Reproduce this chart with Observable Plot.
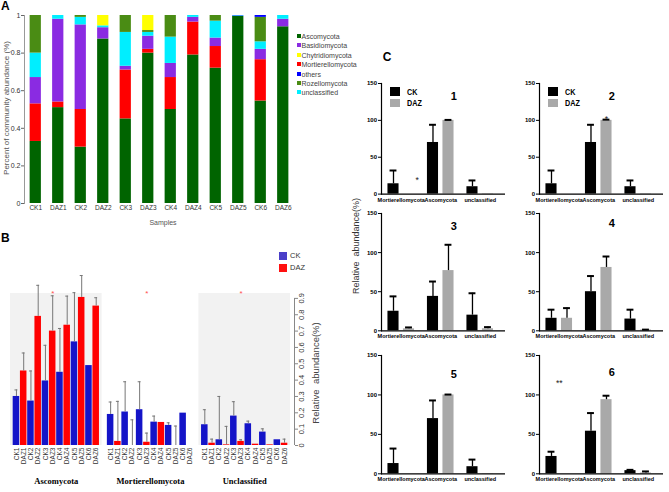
<!DOCTYPE html>
<html><head><meta charset="utf-8">
<script src="https://cdn.jsdelivr.net/npm/d3@7"></script>
<script src="https://cdn.jsdelivr.net/npm/@observablehq/plot@0.6"></script>
<style>
body{margin:0;background:#fff;}
#root{position:relative;width:669px;height:492px;overflow:hidden;background:#fff;font-family:"Liberation Sans",Arial,sans-serif;}
#root svg{position:absolute;}
.lbl{position:absolute;white-space:nowrap;line-height:1;}
.rot{transform:translate(-50%,-50%) rotate(-90deg);}
.ctr{transform:translate(-50%,-50%);}
.sw{position:absolute;}
</style></head><body><div id="root"></div>
<script>
// ---------- Panel A data ----------
const samples = ["CK1","DAZ1","CK2","DAZ2","CK3","DAZ3","CK4","DAZ4","CK5","DAZ5","CK6","DAZ6"];
const taxaLegend = ["Ascomycota","Basidiomycota","Chytridiomycota","Mortierellomycota","others","Rozellomycota","unclassified"];
const taxaColors = ["#006400","#8a2be2","#ffff00","#ff0000","#0000ff","#4a8c14","#00eeff"];
const stackOrder = ["Ascomycota","Mortierellomycota","Basidiomycota","unclassified","Rozellomycota","Chytridiomycota","others"];
const aAscomycota        = [0.33,0.51,0.30,0.875,0.45,0.80,0.50,0.79,0.72,0.995,0.545,0.94];
const aMortierellomycota = [0.20,0.03,0.20,0,0.26,0.02,0.17,0.175,0.115,0,0.22,0];
const aBasidiomycota     = [0.14,0.44,0.45,0.06,0.02,0.07,0.075,0.025,0.045,0,0.055,0.04];
const aUnclassified      = [0.13,0.02,0.04,0.01,0.18,0.02,0.14,0.01,0.09,0.003,0.04,0.02];
const aRozellomycota     = [0.20,0,0.01,0,0.09,0.01,0.115,0,0.03,0,0.13,0];
const aChytridiomycota   = [0,0,0,0.055,0,0.08,0,0,0,0,0,0];
const aOthers            = [0,0,0,0,0,0,0,0,0,0.002,0.01,0];
const aTicks = [0,0.2,0.4,0.6,0.8,1];

// ---------- Panel B data ----------
const bTaxa = ["Ascomycota","Mortierellomycota","Unclassified"];
const bAsco     = [0.30,0.456,0.272,0.79,0.395,0.70,0.448,0.736,0.634,0.906,0.489,0.853];
const bAscoErr  = [0.34,0.566,0.456,0.98,0.613,0.916,0.716,0.914,0.935,1.04,null,0.904];
const bMort     = [0.19,0.025,0.205,0,0.219,0.02,0.143,0.141,0.123,0,0.198,0];
const bMortErr  = [0.266,0.27,0.39,0.157,0.39,0.076,0.18,null,0.139,0.119,null,null];
const bUncl     = [0.127,0.014,0.035,0.004,0.18,0.025,0.133,0.008,0.082,0.004,0.035,0.014];
const bUnclErr  = [0.219,0.039,0.30,0.117,0.268,0.035,0.149,null,0.102,null,null,0.039];
const bTicks = [0,0.1,0.2,0.3,0.4,0.5,0.6,0.7,0.8,0.9];
const bGroups = ["CK","DAZ"];
const bColors = ["#1414c8","#ff0000"];

// ---------- Panel C data ----------
const cCats = ["Mortierellomycota","Ascomycota","unclassified"];
const cNames = ["1","2","3","4","5","6"];
const cCK     = [[14,70,10],[14,70,10],[25,44,20],[16,50,15],[13,70,9],[22,54,4]];
const cCKerr  = [[32,94,18.5],[32,94,18.5],[44,63,48],[27,70,27],[32,93,18],[28,77,5]];
const cDAZ    = [[0,100,0.5],[0,100,0.5],[2.5,77,2.6],[16,81,1],[0,100,0.3],[0,94,1]];
const cDAZerr = [[null,100.6,null],[null,101,null],[4.3,110,4.7],[29,95,1.5],[null,100.5,null],[null,99,3]];
const cTicks = [0,50,100,150];
const cStarPanel = [0,1,5];
const cStarCat = ["Mortierellomycota","Ascomycota","Mortierellomycota"];
const cStarValue = [19,102,115];
const cStarText = ["*","*","**"];
const cStarShift = [16,7.75,0];

// ---------- helpers ----------
const root = document.getElementById("root");
const baseStyle = {background:"transparent", overflow:"visible", fontFamily:"'Liberation Sans',Arial,sans-serif", color:"#333"};
function place(svg, left, top){ svg.style.left = left+"px"; svg.style.top = top+"px"; root.appendChild(svg); }
function label(text, x, y, css, cls){
  const d = document.createElement("div");
  d.className = "lbl " + (cls||"");
  d.textContent = text;
  d.style.left = x+"px"; d.style.top = y+"px";
  Object.assign(d.style, css||{});
  root.appendChild(d);
  return d;
}
function swatch(x,y,w,h,color){
  const d = document.createElement("div");
  d.className = "sw";
  Object.assign(d.style,{left:x+"px",top:y+"px",width:w+"px",height:h+"px",background:color});
  root.appendChild(d);
}

// ---------- Panel A ----------
const aSeries = {Ascomycota:aAscomycota, Mortierellomycota:aMortierellomycota, Basidiomycota:aBasidiomycota,
  unclassified:aUnclassified, Rozellomycota:aRozellomycota, Chytridiomycota:aChytridiomycota, others:aOthers};
const aData = [];
stackOrder.forEach(t => samples.forEach((s,j) => { if (aSeries[t][j] > 0) aData.push({taxon:t, sample:s, value:aSeries[t][j]}); }));
const plotA = Plot.plot({
  width:300, height:230, marginLeft:24, marginRight:6, marginTop:15, marginBottom:27,
  style: baseStyle,
  x:{domain:samples, paddingInner:0.5, paddingOuter:0.25, round:false, label:null, axis:null},
  y:{domain:[0,1], label:null, axis:null},
  color:{domain:taxaLegend, range:taxaColors},
  marks:[
    Plot.barY(aData, {x:"sample", y:"value", fill:"taxon"}),
    Plot.frame({anchor:"left", stroke:"#999"}),
    Plot.axisY({ticks:aTicks, tickFormat:d => (d===0||d===1) ? String(d) : d.toFixed(1), tickSize:3, tickPadding:1, fontSize:7, stroke:"#666"}),
    Plot.axisX({tickSize:0, tickPadding:2, fontSize:6.5})
  ]
});
place(plotA, 0, 0);
label("A", 1, 0, {fontSize:"12px", fontWeight:"bold", color:"#000"});
label("Percent of community abundance (%)", 7, 108, {fontSize:"8px", color:"#555"}, "rot");
label("Samples", 163, 222, {fontSize:"7px", color:"#555"}, "ctr");
const aLegY = [36,45,54.5,64,73.5,83,92];
taxaLegend.forEach((t,i) => {
  swatch(296.5, aLegY[i]-2, 4, 4, taxaColors[i]);
  label(t, 301.5, aLegY[i], {fontSize:"7px", color:"#444", transform:"translateY(-50%)"});
});

// ---------- Panel B ----------
const bVals = [bAsco,bMort,bUncl], bErrs = [bAscoErr,bMortErr,bUnclErr];
const bData = [];
bTaxa.forEach((t,k) => samples.forEach((s,j) => bData.push({taxon:t, sample:s, group:s.startsWith("CK")?"CK":"DAZ", value:bVals[k][j], err:bErrs[k][j]})));
const bErrData = bData.filter(d => d.err != null);
const plotB = Plot.plot({
  width:300, height:252, marginLeft:10, marginRight:10, marginTop:53, marginBottom:47,
  style: baseStyle,
  fx:{domain:bTaxa, paddingInner:0.027, paddingOuter:0, round:false, axis:null, label:null},
  x:{domain:samples, paddingInner:0.1, paddingOuter:0.37, round:false, axis:null, label:null},
  y:{domain:[0,0.93], axis:null, label:null},
  color:{domain:bGroups, range:bColors},
  marks:[
    Plot.barY(["Ascomycota","Unclassified"], {fx:d => d, y1:0, y2:0.93, fill:"#f2f2f2"}),
    Plot.barY(bData, {fx:"taxon", x:"sample", y:"value", fill:"group"}),
    Plot.ruleX(bErrData, {fx:"taxon", x:"sample", y1:"value", y2:"err", stroke:"#777", strokeWidth:1}),
    Plot.tickY(bErrData, {fx:"taxon", x:"sample", y:"err", stroke:"#777", insetLeft:1.8, insetRight:1.8}),
    Plot.text(bTaxa, {fx:d => d, x:() => "DAZ3", y:() => 0.93, text:() => "*", fill:"#ff5050", fontSize:8, dy:0}),
    Plot.axisX({tickRotate:-90, tickSize:0, tickPadding:2, fontSize:6.5}),
    Plot.text(bTaxa, {fx:d => d, frameAnchor:"bottom", dy:38, text:d => d, fontFamily:"'Liberation Serif','Times New Roman',serif", fontWeight:"bold", fontSize:8.5, fill:"#000"})
  ]
});
place(plotB, 0, 240);
const plotBAxis = Plot.plot({
  width:330, height:252, marginLeft:293, marginRight:36, marginTop:53, marginBottom:47,
  style: baseStyle,
  x:{domain:[0,1], axis:null, label:null},
  y:{domain:[0,0.93], axis:null, label:null},
  marks:[
    Plot.ruleX([1], {y1:0, y2:0.9, stroke:"#888"}),
    Plot.axisY({anchor:"right", ticks:bTicks, tickFormat:d => d===0 ? "0" : d.toFixed(1), tickSize:3, tickRotate:-90, fontSize:7.5, stroke:"#888"})
  ]
});
place(plotBAxis, 0, 240);
label("B", 1, 232, {fontSize:"12px", fontWeight:"bold", color:"#000"});
label("Relative  abundance(%)", 316, 373, {fontSize:"9.5px", color:"#444", whiteSpace:"pre"}, "rot");
swatch(279, 252, 8, 8, "#4a3fc8"); label("CK", 290, 256, {fontSize:"7.5px", color:"#333", transform:"translateY(-50%)"});
swatch(279, 263.5, 8, 8, "#ff1010"); label("DAZ", 290, 267.5, {fontSize:"7.5px", color:"#333", transform:"translateY(-50%)"});

// ---------- Panel C ----------
const cCols = [381, 539];
const cRows = [[82.7,193.3],[212.7,330],[355,473.3]];
const cNumY = [133,133,134,137,126,128];
const cFont = "'Liberation Sans',Arial,sans-serif";
for (let i = 0; i < 6; i++) {
  const col = i % 2, row = Math.floor(i / 2);
  const ax = cCols[col], yt = cRows[row][0], yb = cRows[row][1];
  const mL = 30, mR = 6, mT = 20, mB = 20, W = 124;
  const data = cCats.map((c,j) => ({cat:c, ck:cCK[i][j], ckErr:cCKerr[i][j], daz:cDAZ[i][j], dazErr:cDAZerr[i][j]}));
  const ckE = data.filter(d => d.ckErr != null), dzE = data.filter(d => d.dazErr != null);
  const off = 7.75;
  const starMarks = [];
  cStarPanel.forEach((pIdx, k) => {
    if (pIdx === i) starMarks.push(Plot.text([cStarText[k]], {x:() => cStarCat[k], y:() => cStarValue[k], text:d => d, dx:cStarShift[k], fontSize:8.5, fill:"#222"}));
  });
  const p = Plot.plot({
    width:mL+W+mR, height:mT+(yb-yt)+mB, marginLeft:mL, marginRight:mR, marginTop:mT, marginBottom:mB,
    style:{...baseStyle, color:"#000", fontFamily:cFont},
    x:{domain:cCats, paddingInner:0, paddingOuter:0.07, align:0, round:false, axis:null, label:null},
    y:{domain:[0,150], axis:null, label:null},
    marks:[
      Plot.barY(data, {x:"cat", y:"ck", fill:"#000", insetLeft:14.2, insetRight:14.2, dx:-off}),
      Plot.barY(data, {x:"cat", y:"daz", fill:"#a9a9a9", insetLeft:14.2, insetRight:14.2, dx:off}),
      Plot.ruleX(ckE, {x:"cat", y1:"ck", y2:"ckErr", dx:-off, stroke:"#000", strokeWidth:1.3}),
      Plot.tickY(ckE, {x:"cat", y:"ckErr", dx:-off, insetLeft:16.3, insetRight:16.3, stroke:"#000", strokeWidth:2}),
      Plot.ruleX(dzE, {x:"cat", y1:"daz", y2:"dazErr", dx:off, stroke:"#000", strokeWidth:1.3}),
      Plot.tickY(dzE, {x:"cat", y:"dazErr", dx:off, insetLeft:16.3, insetRight:16.3, stroke:"#000", strokeWidth:2}),
      Plot.ruleY([0], {stroke:"#000", strokeWidth:1.2}),
      Plot.frame({anchor:"left", stroke:"#000", strokeWidth:1.2}),
      Plot.axisY({ticks:cTicks, tickSize:3, tickPadding:1.5, fontSize:6, fontWeight:"bold"}),
      Plot.axisX({tickSize:0, tickPadding:3.5, fontSize:5.5, fontWeight:"bold"}),
      Plot.text([cNames[i]], {x:() => "Ascomycota", y:() => cNumY[i], text:d => d, dx:13, fontSize:11, fontWeight:"bold"}),
      ...starMarks
    ]
  });
  place(p, ax - mL, yt - mT);
  if (i < 2) {
    swatch(ax + 8.5, yt + 4.5, 10, 8.5, "#000");
    label("CK", ax + 26, yt + 9, {fontSize:"8.5px", fontWeight:"bold", fontFamily:cFont, color:"#000", transform:"translateY(-50%) scaleX(0.85)", transformOrigin:"left center"});
    swatch(ax + 8.5, yt + 16.5, 10, 8, "#a9a9a9");
    label("DAZ", ax + 26, yt + 20.5, {fontSize:"8.5px", fontWeight:"bold", fontFamily:cFont, color:"#000", transform:"translateY(-50%) scaleX(0.85)", transformOrigin:"left center"});
  }
}
label("C", 387, 57, {fontSize:"12px", fontWeight:"bold", color:"#000"}, "ctr");
label("Relative  abundance(%)", 356, 246, {fontSize:"9px", color:"#333", whiteSpace:"pre"}, "rot");
</script></body></html>
